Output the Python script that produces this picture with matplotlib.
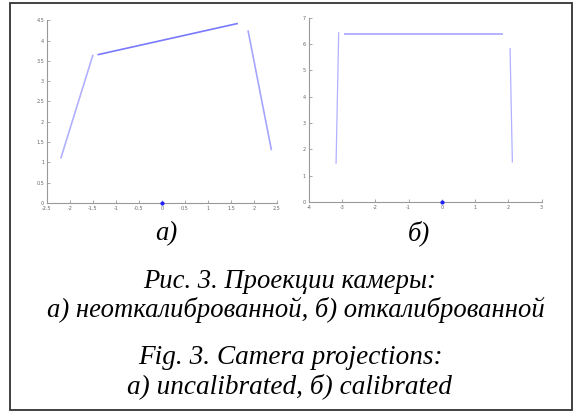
import matplotlib
matplotlib.use('Agg')
import matplotlib.pyplot as plt
from matplotlib.patches import Rectangle

# a) uncalibrated camera projection: three segments
uncal_x = [[-2.2, -1.5], [-1.4, 1.65], [1.87, 2.38]]
uncal_y = [[1.1, 3.65], [3.65, 4.42], [4.25, 1.3]]

# б) calibrated camera projection
cal_x = [[-3.1, -3.18], [-2.95, 1.85], [2.05, 2.12]]
cal_y = [[6.45, 1.45], [6.4, 6.4], [5.85, 1.5]]

center_x = [0]
center_y = [0]

uncal_xticks = [-2.5, -2, -1.5, -1, -0.5, 0, 0.5, 1, 1.5, 2, 2.5]
uncal_yticks = [0, 0.5, 1, 1.5, 2, 2.5, 3, 3.5, 4, 4.5]
cal_xticks = [-4, -3, -2, -1, 0, 1, 2, 3]
cal_yticks = [0, 1, 2, 3, 4, 5, 6, 7]

sub_labels = ['а)', 'б)']
caption_ru = ['Рис. 3. Проекции камеры:', 'а) неоткалиброванной, б) откалиброванной']
caption_en = ['Fig. 3. Camera projections:', 'а) uncalibrated, б) calibrated']

plt.rcParams['font.family'] = ['Liberation Serif', 'DejaVu Serif']

W, H = 575, 412
fig = plt.figure(figsize=(W / 100, H / 100), dpi=100)

fig.patches.append(Rectangle((0.0174, 0.005), 0.977, 0.988, transform=fig.transFigure,
                             fill=False, edgecolor='#333333', linewidth=1.3))


def style_axes(ax, xticks, yticks):
    ax.set_xticks(xticks)
    ax.set_yticks(yticks)
    ax.set_xticklabels([f'{t:g}' for t in xticks])
    ax.set_yticklabels([f'{t:g}' for t in yticks])
    ax.set_xlim(xticks[0], xticks[-1])
    ax.set_ylim(yticks[0], yticks[-1])
    for s in ['top', 'right']:
        ax.spines[s].set_visible(False)
    for s in ['left', 'bottom']:
        ax.spines[s].set_color('#999999')
        ax.spines[s].set_linewidth(0.8)
    ax.tick_params(direction='in', length=2, width=0.6, colors='#999999',
                   labelsize=3.5, labelcolor='#666666', pad=2)
    for lbl in ax.get_xticklabels() + ax.get_yticklabels():
        lbl.set_family('DejaVu Sans')


ax1 = fig.add_axes([0.0817, 0.507, 0.40, 0.444])
alphas1 = [0.35, 0.6, 0.4]
for xs, ys, a in zip(uncal_x, uncal_y, alphas1):
    ax1.plot(xs, ys, color='#2020ff', alpha=a, linewidth=1.2, solid_capstyle='butt')
ax1.plot(center_x, center_y, 'o', color='#2020ff', markersize=2, clip_on=False, zorder=5)
style_axes(ax1, uncal_xticks, uncal_yticks)

ax2 = fig.add_axes([0.537, 0.510, 0.405, 0.447])
alphas2 = [0.35, 0.4, 0.35]
widths2 = [0.9, 1.2, 0.9]
for xs, ys, a, w in zip(cal_x, cal_y, alphas2, widths2):
    ax2.plot(xs, ys, color='#2020ff', alpha=a, linewidth=w, solid_capstyle='butt')
ax2.plot(center_x, center_y, 'o', color='#2020ff', markersize=2, clip_on=False, zorder=5)
style_axes(ax2, cal_xticks, cal_yticks)


def caption(x, y, s, fs):
    fig.text(x / W, 1 - y / H, s, ha='center', va='baseline', style='italic', fontsize=fs)


caption(166, 240, sub_labels[0], 19.2)
caption(419, 240, sub_labels[1], 19.2)
caption(290, 288, caption_ru[0], 19.2)
caption(296, 317, caption_ru[1], 19.2)
caption(290, 364, caption_en[0], 19.6)
caption(289, 393, caption_en[1], 19.6)

fig.savefig('out.png', dpi=100)
